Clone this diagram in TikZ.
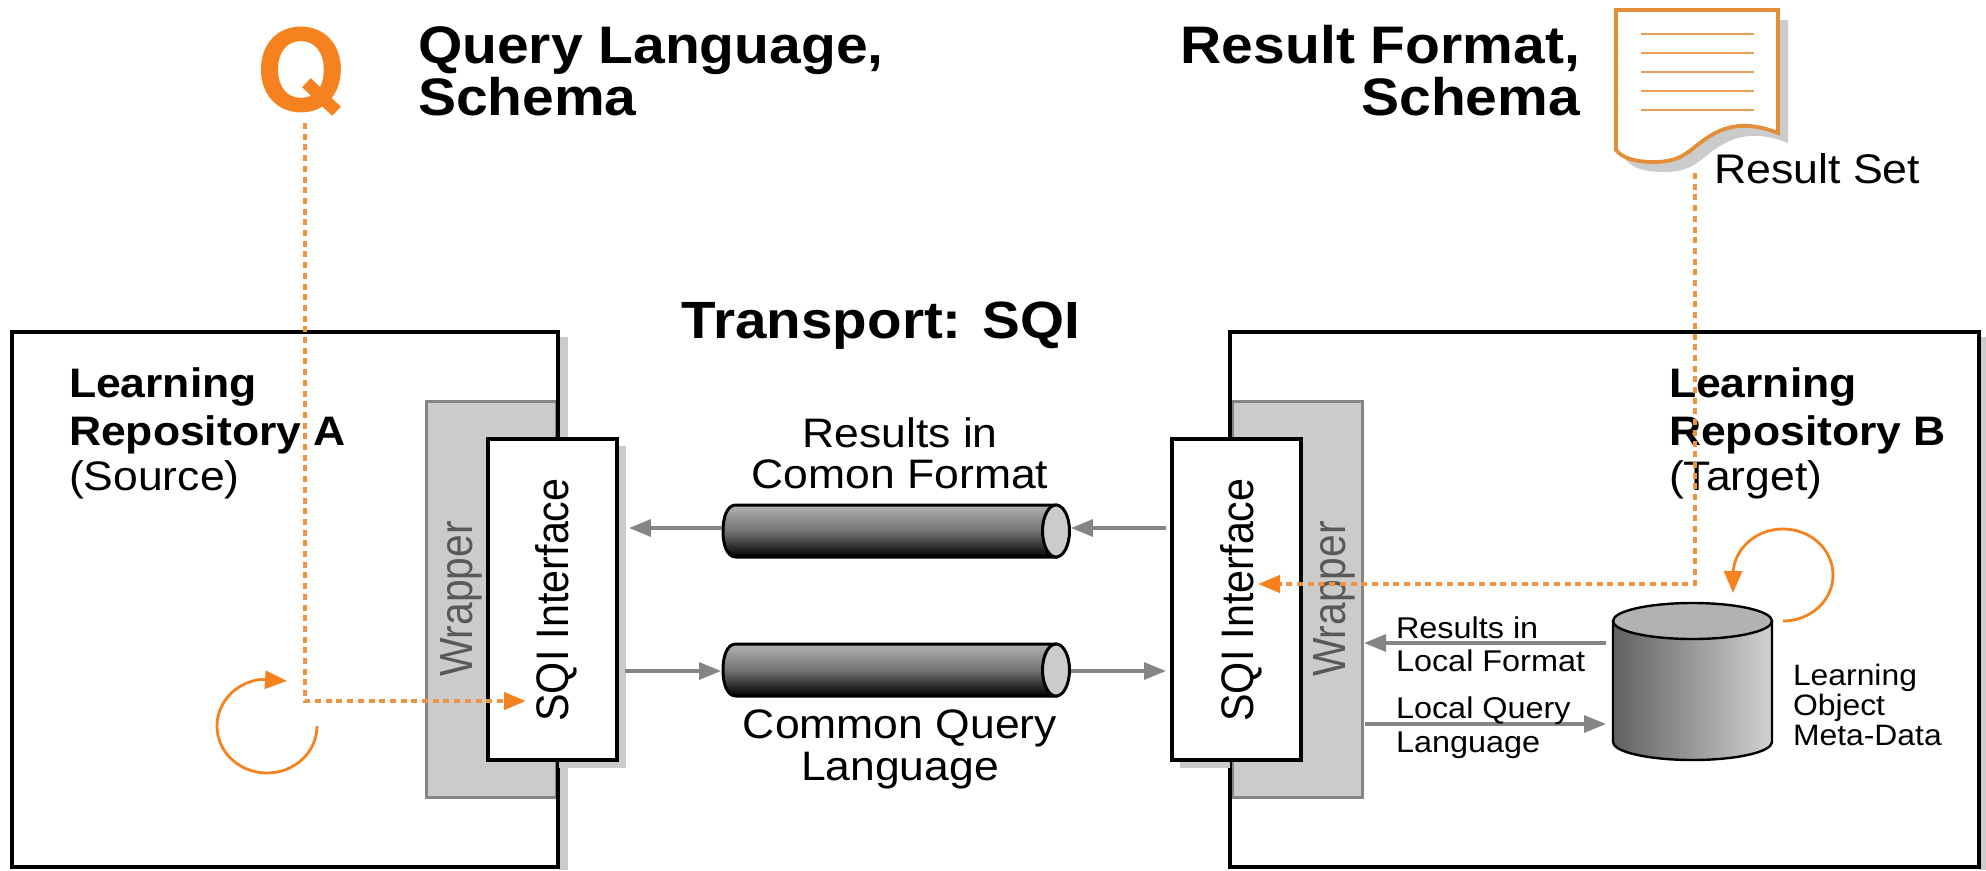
\documentclass[tikz,border=0pt]{standalone}
\usepackage{fontspec}
\setmainfont[FakeStretch=1.08]{Liberation Sans}
\newfontfamily\rotf[FakeStretch=0.905]{Liberation Sans}
\newfontfamily\wrapf[FakeStretch=0.877]{Liberation Sans}
\newfontfamily\qf{TeX Gyre Heros}
\usetikzlibrary{arrows.meta}
\definecolor{org}{HTML}{F5821F}
\definecolor{orgd}{HTML}{EE9440}
\definecolor{docline}{HTML}{E58E3A}
\definecolor{gshadow}{HTML}{CBCBCB}
\definecolor{gline}{HTML}{858585}
\newcommand{\fs}[1]{\fontsize{#1}{#1}\selectfont}
\tikzset{
  x=1pt,y=-1pt,
  lbl/.style={inner sep=0pt,outer sep=0pt,anchor=base west,text=black},
  lblr/.style={inner sep=0pt,outer sep=0pt,anchor=base east,text=black},
  lblc/.style={inner sep=0pt,outer sep=0pt,anchor=base,text=black},
  rotlbl/.style={inner sep=0pt,outer sep=0pt,anchor=base,rotate=90},
  anchorpt/.style={inner sep=0pt,outer sep=0pt,minimum size=0pt},
  repo/.style={anchorpt,draw=black,line width=3.4pt,fill=white},
  wrapbox/.style={anchorpt,draw=gline,line width=3pt,fill=gshadow},
  sqibox/.style={anchorpt,draw=black,line width=3.4pt,fill=white},
  shadowbox/.style={fill=gshadow,draw=none},
  garrow/.style={draw=gline,line width=3.2pt,-{Triangle[length=22pt,width=17pt]}},
  dotline/.style={draw=orgd,line width=4pt,dash pattern=on 6pt off 4.7pt,-{Triangle[length=22pt,width=17pt,color=org]}},
  looparrow/.style={draw=org,line width=2.8pt,-{Triangle[length=22pt,width=18pt]}},
}
% pipe: #1 name, #2 top y
\newcommand{\pipe}[2]{%
  \node[anchorpt,minimum width=348pt,minimum height=52pt] (#1) at (896,#2+26) {};
  \shade[top color=black!30,bottom color=black,middle color=black!55,draw=black,line width=3pt]
    (1056,#2) -- (736,#2) .. controls (727,#2) and (723,#2+12) .. (723,#2+26)
    .. controls (723,#2+40) and (727,#2+52) .. (736,#2+52) -- (1056,#2+52) -- cycle;
  \draw[fill=gshadow,draw=black,line width=3pt] (1056,#2+26) ellipse [x radius=13.5,y radius=26];
}
\begin{document}
\begin{tikzpicture}
\useasboundingbox (0,0) rectangle (1986,870);
\fill[white] (0,0) rectangle (1986,870);

% repositories with their shadows
\fill[shadowbox] (559,337) rectangle (568,870);
\fill[shadowbox] (1979,337) rectangle (1986,870);
\node[repo,minimum width=546pt,minimum height=535pt] (repoA) at (285,599.5) {};
\node[repo,minimum width=749pt,minimum height=535pt] (repoB) at (1604.5,599.5) {};

% wrappers
\node[wrapbox,minimum width=130pt,minimum height=396pt] (wrapA) at (491,599) {};
\draw[draw=black,line width=3.4pt] (repoA.north east) -- (repoA.south east);
\node[wrapbox,minimum width=130pt,minimum height=396pt] (wrapB) at (1297,599) {};
\draw[draw=black,line width=3.4pt] (repoB.north west) -- (repoB.south west);
\fill[shadowbox] (1180,446) rectangle (1230,768);
\fill[shadowbox] (617,446) rectangle (626,768);
\fill[shadowbox] (559,760) rectangle (626,768);

% SQI boxes
\node[sqibox,minimum width=129pt,minimum height=321pt] (sqiA) at (552.5,599.5) {};
\node[sqibox,minimum width=129pt,minimum height=321pt] (sqiB) at (1236.5,599.5) {};

\node[rotlbl,text=black!65] (wrapAt) at (472,599) {\wrapf\fs{46.5}Wrapper};
\node[rotlbl,text=black!65] (wrapBt) at (1345,599) {\wrapf\fs{46.5}Wrapper};
\node[rotlbl,text=black] (sqiAt) at (568,600) {\rotf\fs{45.6}SQI Interface};
\node[rotlbl,text=black] (sqiBt) at (1253,600) {\rotf\fs{45.6}SQI Interface};

% pipes
\pipe{pipeT}{505}
\pipe{pipeB}{644}

\coordinate (ptL) at (722,528);
\coordinate (ptLe) at (629,528);
\coordinate (ptR) at (1071,528);
\coordinate (ptRs) at (1166,528);
\coordinate (pbLs) at (625,671);
\coordinate (pbL) at (721,671);
\coordinate (pbR) at (1071,671);
\coordinate (pbRe) at (1166,671);
\draw[garrow] (ptL) -- (ptLe);
\draw[garrow] (ptRs) -- (ptR);
\draw[garrow] (pbLs) -- (pbL);
\draw[garrow] (pbR) -- (pbRe);

% database
\shade[left color=black!62,right color=black!18,draw=black,line width=2.4pt]
  (1613,622) -- (1613,742) arc[start angle=180,end angle=360,x radius=79.5,y radius=-18] -- (1772,622) -- cycle;
\draw[fill=black!30,draw=black,line width=2.4pt] (1692.5,621) ellipse [x radius=79.5,y radius=18];
\node[anchorpt,minimum width=159pt,minimum height=157pt] (db) at (1692.5,681.5) {};
\coordinate (dbL1) at (1606,643);
\coordinate (wrR1) at (1364,643);
\coordinate (wrR2) at (1365,724);
\coordinate (dbL2) at (1606,724);
\draw[garrow] (dbL1) -- (wrR1);
\draw[garrow] (wrR2) -- (dbL2);

% headings
\node[lbl] (qh1) at (418,63) {\bfseries\fs{52.8}Query Language,};
\node[lbl] (qh2) at (418,115) {\bfseries\fs{52.8}Schema};
\node[lblr] (rh1) at (1580,63) {\bfseries\fs{52.8}Result Format,};
\node[lblr] (rh2) at (1580,115) {\bfseries\fs{52.8}Schema};
\node[lblc] (tr) at (881,338) {\bfseries\fs{52.4}Transport: SQI};
\node[lbl] (rs) at (1714,183) {\fs{41.4}Result Set};

\node[lbl] (la1) at (69,397) {\bfseries\fs{41.2}Learning};
\node[lbl] (la2) at (69,445) {\bfseries\fs{41.2}Repository A};
\node[lbl] (la3) at (69,490) {\fs{41.2}(Source)};
\node[lbl] (lb1) at (1669,397) {\bfseries\fs{41.2}Learning};
\node[lbl] (lb2) at (1669,445) {\bfseries\fs{41.2}Repository B};
\node[lbl] (lb3) at (1669,490) {\fs{41.2}(Target)};

\node[lblc] (c1) at (900,447) {\fs{41.2}Results in};
\node[lblc] (c2) at (900,488) {\fs{41.2}Comon Format};
\node[lblc] (c3) at (900,738) {\fs{41.2}Common Query};
\node[lblc] (c4) at (900,780) {\fs{41.2}Language};

\node[lbl] (r1) at (1396,638) {\fs{30}Results in};
\node[lbl] (r2) at (1396,671) {\fs{30}Local Format};
\node[lbl] (r3) at (1396,718) {\fs{30}Local Query};
\node[lbl] (r4) at (1396,752) {\fs{30}Language};
\node[lbl] (m1) at (1793,685) {\fs{29.5}Learning};
\node[lbl] (m2) at (1793,715) {\fs{29.5}Object};
\node[lbl] (m3) at (1793,745) {\fs{29.5}Meta-Data};

% Q icon
\node[inner sep=0pt,outer sep=0pt,anchor=base,text=org] (qicon) at (301,111) {\qf\bfseries\fs{114}Q};

% result doc
\path[fill=gshadow] (1626,20) -- (1788,20) -- (1788,143)
  .. controls (1770,136) and (1745,130) .. (1720,146)
  .. controls (1700,158) and (1695,172) .. (1664,172)
  .. controls (1645,172) and (1632,168) .. (1626,160) -- cycle;
\draw[draw=docline,line width=3.8pt,fill=white] (1616,10) -- (1778,10) -- (1778,133)
  .. controls (1760,126) and (1735,120) .. (1710,136)
  .. controls (1690,148) and (1685,162) .. (1654,162)
  .. controls (1635,162) and (1622,158) .. (1616,150) -- cycle;
\node[anchorpt,minimum width=162pt,minimum height=152pt] (doc) at (1697,86) {};
\foreach \yy in {34,53,72,91,110} \draw[draw=docline!85!white,line width=2.4pt] (1641,\yy) -- (1754,\yy);

% orange flow
\coordinate (q1) at (304.5,123);
\coordinate (q2) at (304.5,701);
\coordinate (q3) at (526,701);
\draw[dotline] (q1) -- (q2) -- (q3);
\coordinate (d1) at (1694.5,173);
\coordinate (d2) at (1694.5,584);
\coordinate (d3) at (1258,584);
\draw[dotline] (d1) -- (d2) -- (d3);

% loops
\draw[looparrow] plot[domain=0:262,samples=60,smooth] ({267+50*cos(\x)},{726+47*sin(\x)}) -- (287,681);
\draw[looparrow] plot[domain=90:-178,samples=60,smooth] ({1783+50*cos(\x)},{575+46*sin(\x)}) -- (1733,593);
\end{tikzpicture}
\end{document}
